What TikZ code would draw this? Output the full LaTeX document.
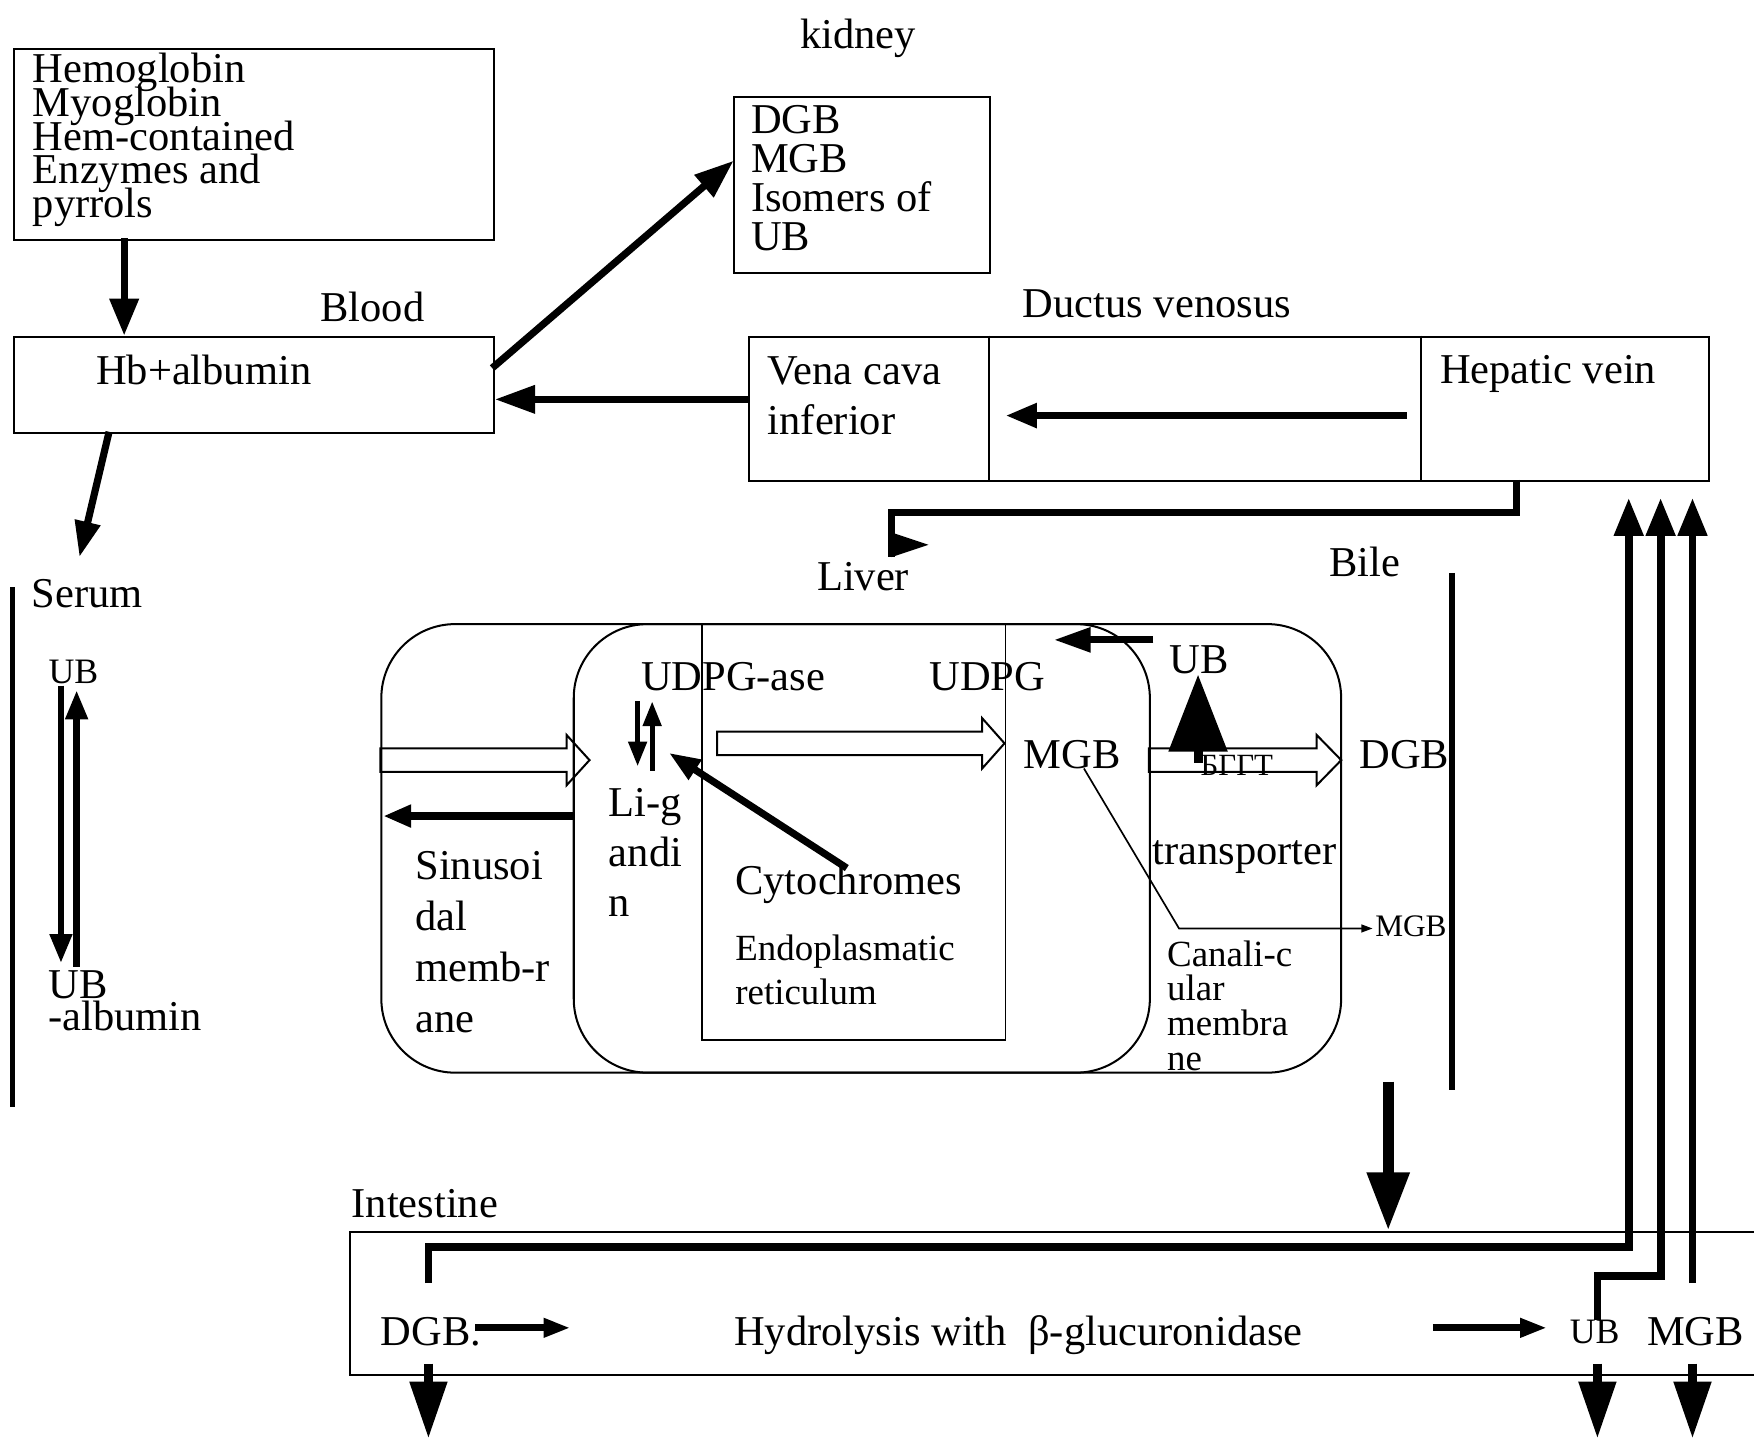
\documentclass[tikz,border=0pt]{standalone}
\usepackage{fontspec}
\setmainfont{Liberation Serif}
\usetikzlibrary{arrows.meta}
\setlength{\lineskiplimit}{-\maxdimen}

% hollow (outlined) arrow: start x, head base x, tip x, centre y
\newcommand{\hollowarrow}[4]{%
  \draw[line width=0.9pt] (#1,#4-10.5) -- (#2,#4-10.5) -- (#2,#4-22.5) -- (#3,#4)
    -- (#2,#4+22.5) -- (#2,#4+10.5) -- (#1,#4+10.5) -- cycle;}

\begin{document}
\begin{tikzpicture}[x=0.5pt,y=-0.5pt,
  box/.style={draw,line width=0.9pt,inner sep=0pt,anchor=north west},
  txt/.style={inner sep=0pt,anchor=base west,font=\fontsize{19}{19}\selectfont},
  multi/.style={inner sep=0pt,anchor=north west,align=left},
  flow/.style 2 args={line width=3.2pt,-{Triangle[length=#1,width=#2]}},
  pipe/.style={line width=3.5pt}]
\useasboundingbox (0,0) rectangle (1568,1287);

% blood
\node[box,minimum width=214.5pt,minimum height=85.5pt] (sources) at (11.5,43) {};
\node[multi,font=\fontsize{19}{15.1}\selectfont] (sourcestxt) at (29,47)
  {Hemoglobin\\Myoglobin\\Hem-contained\\Enzymes and\\pyrrols};
\node[box,minimum width=214.5pt,minimum height=43pt] (blood) at (11.5,300) {};
\node[txt] (bloodlbl) at (286,287) {Blood};
\node[txt] (hb) at (85.5,344) {Hb+albumin};

% kidney
\node[txt] (kidneylbl) at (715,43) {kidney};
\node[box,minimum width=114.7pt,minimum height=78.7pt] (kidney) at (655,85.6) {};
\node[multi,font=\fontsize{19}{17.5}\selectfont] (kidneytxt) at (671,93.6)
  {DGB\\MGB\\Isomers of\\UB};

% veins
\node[txt] (ductus) at (914,284) {Ductus venosus};
\node[box,minimum width=429pt,minimum height=64.75pt] (vein) at (669,300) {};
\draw[line width=0.9pt] (884,300) -- (884,429.5) (1270,300) -- (1270,429.5);
\node[multi,font=\fontsize{19}{22.5}\selectfont] (cava) at (686,318) {Vena cava\\inferior};
\node[txt] (hepatic) at (1287,343) {Hepatic vein};

% serum
\draw[line width=2.5pt] (11.3,525) -- (11.3,990);
\node[txt] (serum) at (28,543) {Serum};
\node[txt,font=\fontsize{16}{16}\selectfont] (ubfree) at (43,611) {UB};
\node[multi,font=\fontsize{19}{14.5}\selectfont] (ubalb) at (43,867) {UB\\-albumin};

% liver cell
\node[txt] (liverlbl) at (730,528) {Liver};
\node[txt] (bilelbl) at (1188,515) {Bile};
\draw[line width=2.6pt] (1298,512) -- (1298,974);
\node[box,rounded corners=33pt,minimum width=429pt,minimum height=200.5pt] (cell) at (340,557) {};
\node[box,rounded corners=33pt,minimum width=257.5pt,minimum height=200.5pt] (hep) at (512,557) {};
\node[box,line width=0.8pt,minimum width=135.5pt,minimum height=186pt] (er) at (627,557) {};
\hollowarrow{340}{506.5}{527}{679.5}
\hollowarrow{641}{878}{898}{664.5}
\hollowarrow{1027}{1177}{1199}{679.5}
\node[txt] (udpgase) at (572.7,617) {UDPG-ase};
\node[txt] (udpg) at (830.6,617) {UDPG};
\node[txt] (mgbin) at (914.6,686.7) {MGB};
\node[multi,font=\fontsize{19}{22.8}\selectfont] (sinus) at (371,761) {Sinusoi\\dal\\memb-r\\ane};
\node[multi,font=\fontsize{19}{22.5}\selectfont] (lig) at (544,704) {Li-g\\andi\\n};
\node[txt] (cytochr) at (657,800) {Cytochromes};
\node[multi,font=\fontsize{16.5}{19.5}\selectfont] (ertxt) at (657,835.5) {Endoplasmatic\\reticulum};
\node[txt] (ubliver) at (1045,602) {UB};
\node[txt] (dgbliver) at (1215,687) {DGB};
\node[txt] (transp) at (1030,773) {transporter};
\node[txt,font=\fontsize{14}{14}\selectfont] (mgbout) at (1229,837) {MGB};
\node[multi,font=\fontsize{16.5}{15.5}\selectfont] (canal) at (1043,840.5) {Canali-c\\ular\\membra\\ne};
\node[txt,font=\fontsize{13.8}{13.8}\selectfont] (ggt) at (1073,693) {БГГТ};

% intestine
\node[txt] (intlbl) at (314,1088) {Intestine};
\node[box,minimum width=634pt,minimum height=64pt] (intestine) at (312,1100) {};
\node[txt] (dgbint) at (340,1203) {DGB.};
\node[txt] (hydro) at (656,1203) {Hydrolysis with~ β-glucuronidase};
\node[txt,font=\fontsize{16}{16}\selectfont] (ubint) at (1403,1201) {UB};
\node[txt] (mgbint) at (1472,1203) {MGB};

% connector ends
\coordinate (srcout) at (111,213);
\coordinate (tokid) at (440,329);
\coordinate (kidin) at (655.8,143.7);
\coordinate (cavaout) at (669,357);
\coordinate (hepout) at (1258,371.5);
\coordinate (cavain) at (899,371.5);
\coordinate (bloodout) at (97.5,386);
\coordinate (serumin) at (71,498);
\coordinate (hepdown) at (1356,429);
\coordinate (liverin) at (797,498);
\coordinate (ubdn) at (54.5,613);
\coordinate (albin) at (54.5,861);
\coordinate (albout) at (68.5,864);
\coordinate (ubup) at (68.5,617);
\coordinate (ligdn) at (570,627);
\coordinate (ligdnend) at (570,685);
\coordinate (ligup) at (583,689);
\coordinate (ligupend) at (583,627);
\coordinate (cytout) at (757,776);
\coordinate (cytin) at (598,673);
\coordinate (sinout) at (513,729.5);
\coordinate (sinin) at (342.5,729.5);
\coordinate (ubl) at (1031,572);
\coordinate (udpgin) at (942,572);
\coordinate (ggtout) at (1071,682);
\coordinate (ggtin) at (1071,603);
\coordinate (mgbsplit) at (969,687);
\coordinate (mgbbend) at (1054,830);
\coordinate (mgbend) at (1227,830);
\coordinate (bileout) at (1241,967);
\coordinate (dgbup) at (383,1147);
\coordinate (ubupi) at (1428,1180);
\coordinate (mgbup) at (1513,1147);
\coordinate (dgbtop) at (1456,445);
\coordinate (ubtop) at (1484.5,445);
\coordinate (mgbtop) at (1513,445);
\coordinate (hydin) at (425,1187);
\coordinate (hydl) at (510,1187);
\coordinate (hydout) at (1281,1187);
\coordinate (hydr) at (1383,1187);

% arrows
\draw[flow={16.5pt}{12.5pt}] (srcout) -- (srcout |- blood.north);
\draw[flow={17.5pt}{12.5pt}] (tokid) -- (kidin);
\draw[flow={18pt}{12pt}] (cavaout) -- (cavaout -| blood.east);
\draw[flow={14pt}{10.5pt}] (hepout) -- (cavain);
\draw[flow={16pt}{11pt}] (bloodout) -- (serumin);
\draw[line width=3.2pt] (hepdown) -- ++(0,29) -| (liverin);
\fill (liverin) -- ++(0,-22) -- ++(33,11) -- cycle;
\draw[flow={13pt}{9.5pt},line width=3pt] (ubdn) -- (albin);
\draw[flow={13pt}{9.5pt},line width=3pt] (albout) -- (ubup);
\draw[flow={11pt}{8pt},line width=2.2pt] (ligdn) -- (ligdnend);
\draw[flow={11pt}{8pt},line width=2.2pt] (ligup) -- (ligupend);
\draw[flow={14pt}{10pt}] (cytout) -- (cytin);
\draw[flow={12.5pt}{9.5pt}] (sinout) -- (sinin);
\draw[flow={16.5pt}{10.5pt}] (ubl) -- (udpgin);
\draw[flow={34.5pt}{25.5pt},line width=4pt] (ggtout) -- (ggtin);
\draw[line width=0.75pt,-{Triangle[length=5pt,width=3.5pt]}] (mgbsplit) -- (mgbbend) -- (mgbend);
\draw[flow={26pt}{18pt},line width=5pt] (bileout) -- (bileout |- intestine.north);
\draw[pipe,-{Triangle[length=17pt,width=12.5pt]}] (dgbup) -- ++(0,-32) -| (dgbtop);
\draw[pipe,-{Triangle[length=17pt,width=12.5pt]}] (ubupi) -- ++(0,-39) -| (ubtop);
\draw[pipe,-{Triangle[length=17pt,width=12.5pt]}] (mgbup) -- (mgbtop);
\foreach \x in {383,1428,1513}
  \draw[flow={25.5pt}{16pt},line width=4pt] (\x,1219) -- (\x,1286);
\draw[flow={12pt}{8pt},line width=3pt] (hydin) -- (hydl);
\draw[flow={12pt}{8pt},line width=3pt] (hydout) -- (hydr);
\end{tikzpicture}
\end{document}
